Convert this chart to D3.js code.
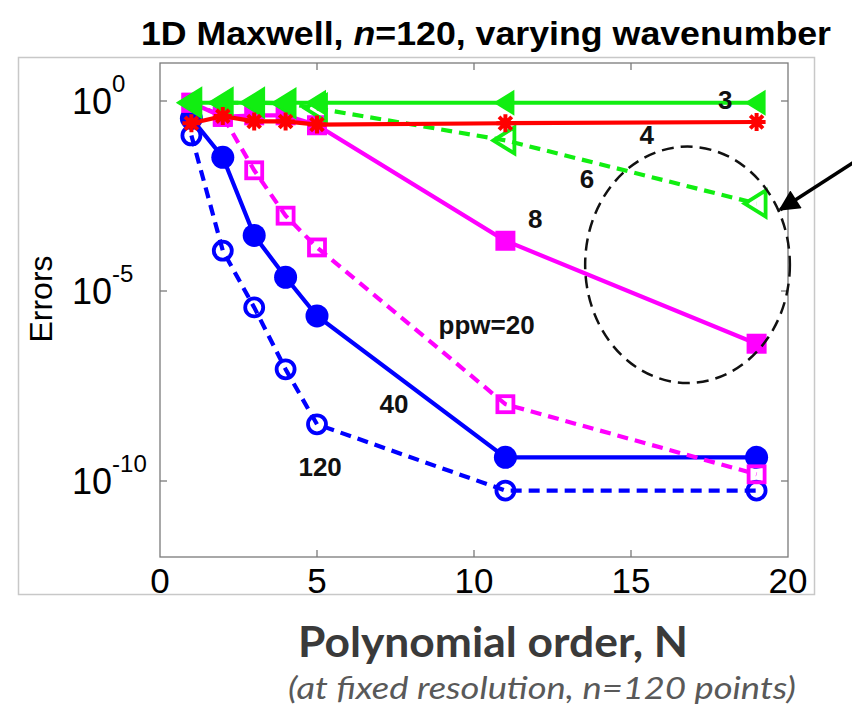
<!DOCTYPE html>
<html>
<head>
<meta charset="utf-8">
<script src="https://cdn.jsdelivr.net/npm/d3@7"></script>
<style>
  body { margin: 0; background: #fff; }
  svg { display: block; }
</style>
</head>
<body>
<svg width="852" height="706"></svg>
<script>
// Polynomial orders on the x axis
const orders = [1, 2, 3, 4, 5, 11, 19];

// Errors per wavenumber
const err3   = [0.9, 0.9, 0.9, 0.9, 0.9, 0.9, 0.9];
const err4   = [0.26, 0.40, 0.29, 0.29, 0.24, 0.26, 0.28];
const err6   = [0.9, 0.9, 0.9, 0.87, 0.64, 0.092, 2.0e-3];
const err8   = [0.9, 0.38, 0.42, 0.42, 0.23, 2.1e-4, 4.1e-7];
const err20  = [0.9, 0.40, 1.5e-2, 9.6e-4, 1.4e-4, 1.05e-8, 1.5e-10];
const err40  = [0.35, 3.3e-2, 2.9e-4, 2.3e-5, 2.2e-6, 4.2e-10, 4.2e-10];
const err120 = [0.124, 1.15e-4, 3.7e-6, 8.7e-8, 3.1e-9, 5.6e-11, 5.6e-11];

const xTicks = [0, 5, 10, 15, 20];
const yTicks = [0, -5, -10]; // exponents

// Curve labels, in data coordinates [x, log10(err)]
const curveLabels = [
  { text: "3", x: 18.0, e: -0.22 },
  { text: "4", x: 15.5, e: -1.12 },
  { text: "6", x: 13.6, e: -2.30 },
  { text: "8", x: 11.95, e: -3.33 },
  { text: "ppw=20", x: 10.4, e: -6.12 },
  { text: "40", x: 7.45, e: -8.22 },
  { text: "120", x: 5.1, e: -9.88 }
];

const svg = d3.select("svg"),
  width = +svg.attr("width"),
  height = +svg.attr("height");

const margin = { left: 160, right: 852 - 788, top: 63, bottom: 706 - 557 };

const x = d3.scaleLinear().domain([0, 20]).range([margin.left, width - margin.right]);
const y = d3.scaleLog().domain([1e-12, 1e1]).range([height - margin.bottom, margin.top]);

// Light figure frame
svg.append("rect")
  .attr("x", 18.5).attr("y", 57.5)
  .attr("width", 796).attr("height", 537)
  .attr("fill", "none")
  .attr("stroke", "#c8c8c8")
  .attr("stroke-width", 1.5);

// Title
svg.append("text")
  .attr("x", 486).attr("y", 45)
  .attr("text-anchor", "middle")
  .style("font-family", "Liberation Sans, Arial, sans-serif")
  .style("font-weight", "bold")
  .style("font-size", "34px")
  .attr("textLength", 690)
  .attr("lengthAdjust", "spacingAndGlyphs")
  .html('1D Maxwell, <tspan font-style="italic">n</tspan>=120, varying wavenumber');

// Axes box
const x0 = x.range()[0], x1 = x.range()[1], y0 = y.range()[0], y1 = y.range()[1];
svg.append("rect")
  .attr("x", x0).attr("y", y1)
  .attr("width", x1 - x0).attr("height", y0 - y1)
  .attr("fill", "none")
  .attr("stroke", "#7a7a7a")
  .attr("stroke-width", 1.3);

// Inward ticks on all four sides
const tickG = svg.append("g").attr("stroke", "#7a7a7a").attr("stroke-width", 1.3);
xTicks.slice(1, -1).forEach(t => {
  tickG.append("line").attr("x1", x(t)).attr("x2", x(t)).attr("y1", y0).attr("y2", y0 - 7);
  tickG.append("line").attr("x1", x(t)).attr("x2", x(t)).attr("y1", y1).attr("y2", y1 + 7);
});
yTicks.forEach(e => {
  const yy = y(Math.pow(10, e));
  tickG.append("line").attr("x1", x0).attr("x2", x0 + 7).attr("y1", yy).attr("y2", yy);
  tickG.append("line").attr("x1", x1).attr("x2", x1 - 7).attr("y1", yy).attr("y2", yy);
});

// X tick labels
svg.append("g")
  .selectAll("text")
  .data(xTicks)
  .join("text")
  .attr("x", d => x(d))
  .attr("y", 593)
  .attr("text-anchor", "middle")
  .style("font-family", "Liberation Sans, Arial, sans-serif")
  .style("font-size", "35px")
  .text(d => d);

// Y tick labels with superscript exponent
const yl = svg.append("g")
  .selectAll("text")
  .data(yTicks)
  .join("text")
  .attr("x", 72)
  .attr("y", d => y(Math.pow(10, d)) + 13)
  .style("font-family", "Liberation Sans, Arial, sans-serif")
  .style("font-size", "36px");
yl.append("tspan").text("10");
yl.append("tspan")
  .attr("dy", -22)
  .style("font-size", "24px")
  .text(d => d === 0 ? "0" : "-" + Math.abs(d));

// Y axis title
svg.append("text")
  .attr("transform", "translate(52,299) rotate(-90)")
  .attr("text-anchor", "middle")
  .style("font-family", "Liberation Sans, Arial, sans-serif")
  .style("font-size", "32px")
  .text("Errors");

// X axis title and note
svg.append("text")
  .attr("x", 493).attr("y", 657)
  .attr("text-anchor", "middle")
  .attr("fill", "#3a3a3a")
  .style("font-family", "Lato, Open Sans, sans-serif")
  .style("font-weight", "bold")
  .style("font-size", "42px")
  .attr("textLength", 390)
  .attr("lengthAdjust", "spacingAndGlyphs")
  .text("Polynomial order, N");

svg.append("text")
  .attr("x", 542).attr("y", 699)
  .attr("text-anchor", "middle")
  .attr("fill", "#595959")
  .style("font-family", "Lato, Open Sans, sans-serif")
  .style("font-style", "italic")
  .style("font-size", "31px")
  .attr("textLength", 508)
  .attr("lengthAdjust", "spacingAndGlyphs")
  .text("(at fixed resolution, n=120 points)");

// Marker shapes
const triPath = "M-12,0 L9,-13 L9,13 Z";
function asterisk(r) {
  let p = "";
  for (let i = 0; i < 4; i++) {
    const a = i * Math.PI / 4;
    p += `M${-r * Math.cos(a)},${-r * Math.sin(a)} L${r * Math.cos(a)},${r * Math.sin(a)} `;
  }
  return p;
}

const series = [
  { vals: err120, color: "#0000ff", dash: "11,7", marker: "ocircle" },
  { vals: err40,  color: "#0000ff", dash: null,   marker: "fcircle" },
  { vals: err20,  color: "#ff00ff", dash: "11,7", marker: "osquare" },
  { vals: err8,   color: "#ff00ff", dash: null,   marker: "fsquare" },
  { vals: err6,   color: "#11ee11", dash: "11,7", marker: "otri" },
  { vals: err3,   color: "#11ee11", dash: null,   marker: "ftri" },
  { vals: err4,   color: "#ff0000", dash: null,   marker: "star" }
];

const line = d3.line()
  .x(d => x(d[0]))
  .y(d => y(d[1]));

series.forEach(s => {
  const pts = orders.map((o, i) => [o, s.vals[i]]);
  const g = svg.append("g");
  g.append("path")
    .attr("d", line(pts))
    .attr("fill", "none")
    .attr("stroke", s.color)
    .attr("stroke-width", 4.2)
    .attr("stroke-dasharray", s.dash);

  const m = g.selectAll(".m")
    .data(pts)
    .join("g")
    .attr("transform", d => `translate(${x(d[0])},${y(d[1])})`);

  if (s.marker === "fcircle") {
    m.append("circle").attr("r", 11.5).attr("fill", s.color);
  } else if (s.marker === "ocircle") {
    m.append("circle").attr("r", 9).attr("fill", "none").attr("stroke", s.color).attr("stroke-width", 3.8);
  } else if (s.marker === "fsquare") {
    m.append("rect").attr("x", -10).attr("y", -10).attr("width", 20).attr("height", 20).attr("fill", s.color);
  } else if (s.marker === "osquare") {
    m.append("rect").attr("x", -8).attr("y", -8).attr("width", 16).attr("height", 16)
      .attr("fill", "none").attr("stroke", s.color).attr("stroke-width", 3.8);
  } else if (s.marker === "ftri") {
    m.append("path").attr("d", triPath).attr("fill", s.color);
  } else if (s.marker === "otri") {
    m.append("path").attr("d", triPath).attr("fill", "none").attr("stroke", s.color).attr("stroke-width", 3.8);
  } else if (s.marker === "star") {
    m.append("path").attr("d", asterisk(9)).attr("stroke", s.color).attr("stroke-width", 4);
    m.append("circle").attr("r", 5).attr("fill", s.color);
  }
});

// Curve labels
svg.append("g")
  .selectAll("text")
  .data(curveLabels)
  .join("text")
  .attr("x", d => x(d.x))
  .attr("y", d => y(Math.pow(10, d.e)))
  .attr("text-anchor", "middle")
  .attr("fill", "#111")
  .style("font-family", "Liberation Sans, Arial, sans-serif")
  .style("font-weight", "bold")
  .style("font-size", "26px")
  .text(d => d.text);

// Dashed ellipse around the low-resolution curves
const ell = { x: 16.8, e: -4.31, rx: 3.26, re: 3.11 };
svg.append("ellipse")
  .attr("cx", x(ell.x))
  .attr("cy", y(Math.pow(10, ell.e)))
  .attr("rx", x(ell.x + ell.rx) - x(ell.x))
  .attr("ry", y(Math.pow(10, ell.e - ell.re)) - y(Math.pow(10, ell.e)))
  .attr("fill", "none")
  .attr("stroke", "#111")
  .attr("stroke-width", 2.5)
  .attr("stroke-dasharray", "12,7");

// Arrow pointing at the ellipse
const arrow = { x1: 22.1, e1: -1.61, x2: 19.75, e2: -2.86 };
svg.append("defs").append("marker")
  .attr("id", "head")
  .attr("viewBox", "0 0 10 10")
  .attr("refX", 9).attr("refY", 5)
  .attr("markerWidth", 7).attr("markerHeight", 6)
  .attr("markerUnits", "strokeWidth")
  .attr("orient", "auto")
  .append("path")
  .attr("d", "M0,0 L10,5 L0,10 Z")
  .attr("fill", "#000");

svg.append("line")
  .attr("x1", x(arrow.x1)).attr("y1", y(Math.pow(10, arrow.e1)))
  .attr("x2", x(arrow.x2)).attr("y2", y(Math.pow(10, arrow.e2)))
  .attr("stroke", "#000")
  .attr("stroke-width", 3.5)
  .attr("marker-end", "url(#head)");
</script>
</body>
</html>
